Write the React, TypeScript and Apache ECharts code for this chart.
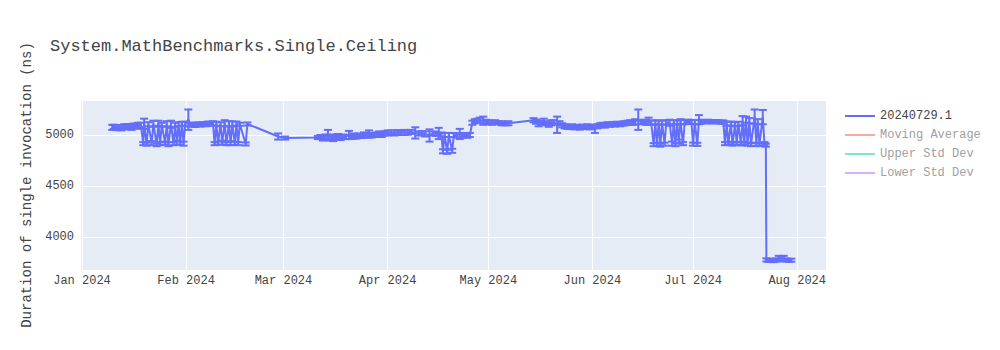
import React, { useEffect, useRef } from "react";
import * as echarts from "echarts";

const TITLE = "System.MathBenchmarks.Single.Ceiling";
const Y_NAME = "Duration of single invocation (ns)";
const SERIES_NAME = "20240729.1";
const LEGEND_NAMES = ["20240729.1", "Moving Average", "Upper Std Dev", "Lower Std Dev"];

const dates: string[] = [
  // Jan 10 - Jan 17
  "2024-01-10T00:00", "2024-01-10T12:00", "2024-01-11T06:00", "2024-01-12T00:00", "2024-01-12T18:00", "2024-01-13T12:00",
  "2024-01-14T06:00", "2024-01-15T00:00", "2024-01-15T18:00", "2024-01-16T12:00", "2024-01-17T06:00", "2024-01-17T18:00",
  // Jan 18 - Feb 1
  "2024-01-18T12:00", "2024-01-19T06:00", "2024-01-19T12:00", "2024-01-20T06:00", "2024-01-20T18:00", "2024-01-21T18:00",
  "2024-01-22T06:00", "2024-01-23T06:00", "2024-01-23T18:00", "2024-01-24T06:00", "2024-01-24T18:00", "2024-01-25T18:00",
  "2024-01-26T06:00", "2024-01-26T18:00", "2024-01-27T12:00", "2024-01-28T06:00", "2024-01-28T18:00", "2024-01-29T06:00",
  "2024-01-29T18:00", "2024-01-30T06:00", "2024-01-30T18:00", "2024-01-31T06:00", "2024-01-31T18:00", "2024-02-01T16:00",
  // Feb 2 - Feb 9
  "2024-02-02T06:00", "2024-02-03T00:00", "2024-02-03T18:00", "2024-02-04T12:00", "2024-02-05T06:00",
  "2024-02-06T00:00", "2024-02-06T18:00", "2024-02-07T12:00", "2024-02-08T06:00", "2024-02-09T00:00",
  // Feb 9 - Feb 19
  "2024-02-09T12:00", "2024-02-10T00:00", "2024-02-10T12:00", "2024-02-11T06:00", "2024-02-11T18:00", "2024-02-12T12:00",
  "2024-02-13T00:00", "2024-02-13T18:00", "2024-02-14T06:00", "2024-02-14T18:00", "2024-02-15T12:00", "2024-02-16T00:00",
  "2024-02-16T12:00", "2024-02-17T00:00", "2024-02-18T18:00", "2024-02-19T06:00",
  // Feb 28 - Mar 11
  "2024-02-28T10:00", "2024-03-01T12:00", "2024-03-11T06:00",
  // Mar 12 - Mar 28
  "2024-03-12T00:00", "2024-03-12T18:00", "2024-03-13T12:00", "2024-03-14T06:00", "2024-03-15T00:00", "2024-03-15T18:00",
  "2024-03-16T12:00", "2024-03-17T06:00", "2024-03-18T00:00", "2024-03-18T18:00", "2024-03-19T12:00", "2024-03-20T12:00",
  "2024-03-21T06:00", "2024-03-22T00:00", "2024-03-22T18:00", "2024-03-23T12:00", "2024-03-24T06:00", "2024-03-25T00:00",
  "2024-03-25T18:00", "2024-03-26T12:00", "2024-03-27T06:00", "2024-03-28T00:00",
  // Mar 28 - Apr 25
  "2024-03-28T18:00", "2024-03-29T12:00", "2024-03-30T06:00", "2024-03-31T00:00", "2024-04-01T00:00", "2024-04-02T00:00",
  "2024-04-03T00:00", "2024-04-04T00:00", "2024-04-05T00:00", "2024-04-06T00:00", "2024-04-07T00:00", "2024-04-08T00:00",
  "2024-04-09T06:00", "2024-04-10T06:00", "2024-04-11T06:00", "2024-04-12T06:00", "2024-04-13T12:00", "2024-04-14T12:00",
  "2024-04-15T12:00", "2024-04-16T06:00", "2024-04-17T00:00", "2024-04-17T12:00", "2024-04-18T00:00", "2024-04-18T18:00",
  "2024-04-19T06:00", "2024-04-20T06:00", "2024-04-20T18:00", "2024-04-21T12:00", "2024-04-22T12:00", "2024-04-23T06:00",
  "2024-04-24T00:00", "2024-04-24T18:00", "2024-04-25T12:00",
  // Apr 26 - May 7
  "2024-04-26T06:00", "2024-04-27T00:00", "2024-04-27T18:00", "2024-04-28T12:00", "2024-04-29T12:00", "2024-04-30T06:00",
  "2024-05-01T00:00", "2024-05-02T00:00", "2024-05-03T00:00", "2024-05-04T00:00", "2024-05-05T00:00", "2024-05-06T00:00",
  "2024-05-07T00:00",
  // May 14 - May 24
  "2024-05-14T12:00", "2024-05-15T06:00", "2024-05-16T00:00", "2024-05-16T18:00", "2024-05-17T12:00", "2024-05-18T06:00",
  "2024-05-19T00:00", "2024-05-19T18:00", "2024-05-20T12:00", "2024-05-21T12:00", "2024-05-22T06:00", "2024-05-23T00:00",
  "2024-05-23T18:00", "2024-05-24T12:00",
  // May 25 - Jun 2
  "2024-05-25T06:00", "2024-05-26T00:00", "2024-05-26T18:00", "2024-05-27T12:00", "2024-05-28T06:00", "2024-05-29T00:00",
  "2024-05-29T18:00", "2024-05-30T12:00", "2024-05-31T06:00", "2024-06-01T00:00", "2024-06-01T18:00", "2024-06-02T12:00",
  // Jun 3 - Jun 10
  "2024-06-03T06:00", "2024-06-04T00:00", "2024-06-04T18:00", "2024-06-05T12:00", "2024-06-06T06:00", "2024-06-07T00:00",
  "2024-06-07T18:00", "2024-06-08T12:00", "2024-06-09T06:00", "2024-06-10T00:00", "2024-06-10T18:00",
  // Jun 11 - Jun 18
  "2024-06-11T12:00", "2024-06-12T06:00", "2024-06-13T00:00", "2024-06-13T18:00", "2024-06-14T16:00", "2024-06-15T12:00",
  "2024-06-16T06:00", "2024-06-17T00:00", "2024-06-17T18:00", "2024-06-18T12:00",
  // Jun 19 - Jul 3
  "2024-06-19T06:00", "2024-06-19T18:00", "2024-06-20T06:00", "2024-06-20T18:00", "2024-06-21T06:00", "2024-06-21T18:00",
  "2024-06-22T12:00", "2024-06-23T00:00", "2024-06-24T00:00", "2024-06-24T18:00", "2024-06-25T06:00", "2024-06-25T18:00",
  "2024-06-26T06:00", "2024-06-26T18:00", "2024-06-27T06:00", "2024-06-28T00:00", "2024-06-28T12:00", "2024-06-29T12:00",
  "2024-06-30T12:00", "2024-07-01T00:00", "2024-07-01T12:00", "2024-07-02T06:00", "2024-07-02T18:00", "2024-07-03T06:00",
  // Jul 4 - Jul 10
  "2024-07-04T00:00", "2024-07-04T18:00", "2024-07-05T12:00", "2024-07-06T06:00", "2024-07-07T00:00", "2024-07-07T18:00",
  "2024-07-08T12:00", "2024-07-09T06:00", "2024-07-10T00:00",
  // Jul 10 - Jul 22
  "2024-07-10T12:00", "2024-07-11T00:00", "2024-07-11T12:00", "2024-07-12T06:00", "2024-07-12T18:00", "2024-07-13T12:00",
  "2024-07-14T00:00", "2024-07-14T12:00", "2024-07-15T06:00", "2024-07-15T18:00", "2024-07-16T06:00", "2024-07-16T18:00",
  "2024-07-17T06:00", "2024-07-17T18:00", "2024-07-18T06:00", "2024-07-19T08:00", "2024-07-19T20:00", "2024-07-20T06:00",
  "2024-07-20T18:00", "2024-07-21T18:00", "2024-07-22T06:00", "2024-07-22T16:00",
  // Jul 22 - Jul 30
  "2024-07-22T20:00", "2024-07-23T12:00", "2024-07-24T06:00", "2024-07-25T00:00", "2024-07-25T18:00", "2024-07-26T12:00",
  "2024-07-27T06:00", "2024-07-28T00:00", "2024-07-28T18:00", "2024-07-29T12:00", "2024-07-30T06:00",
];

const values: number[] = [
  5075, 5080, 5072, 5078, 5070, 5085, 5080, 5088, 5075, 5090, 5085, 5095,
  5100, 4915, 5110, 4910, 5105, 4920, 5110, 4905, 5115, 4915, 5100, 4920,
  5110, 4910, 5105, 4915, 5100, 4925, 5105, 4920, 5110, 4915, 5110, 5150,
  5100, 5105, 5098, 5108, 5102, 5110, 5105, 5112, 5108, 5115,
  4915, 5110, 4920, 5105, 4925, 5115, 4915, 5110, 4920, 5108, 4918, 5112, 4915, 5105, 4912, 5108,
  4985, 4970, 4975,
  4980, 4970, 4985, 5000, 4975, 4965, 4980, 4990, 4975, 4985, 4980, 5000,
  4980, 4990, 4985, 4995, 4990, 5000, 4995, 5010, 4995, 5000,
  5005, 5010, 5000, 5015, 5020, 5025, 5020, 5028, 5020, 5025, 5022, 5030,
  5020, 5015, 5018, 5010, 4995, 5015, 5010, 5015, 5005, 4840, 5000, 4835,
  5000, 4845, 5000, 4995, 5010, 4998, 5000, 4992, 5000,
  5120, 5135, 5140, 5145, 5140, 5130, 5125, 5120, 5125, 5120, 5115, 5110, 5115,
  5145, 5130, 5110, 5120, 5135, 5115, 5100, 5120, 5125, 5100, 5115, 5095, 5085, 5080,
  5078, 5085, 5075, 5080, 5072, 5082, 5078, 5085, 5075, 5080, 5060, 5085,
  5095, 5100, 5092, 5105, 5100, 5108, 5102, 5110, 5105, 5112, 5115,
  5120, 5125, 5118, 5130, 5150, 5125, 5130, 5120, 5135, 5125,
  4905, 5120, 4910, 5125, 4900, 5120, 4910, 5125, 5120, 4915, 5125, 4905,
  5122, 4935, 5130, 4915, 5125, 5130, 5128, 4910, 5125, 4908, 5150, 5130,
  5132, 5128, 5135, 5130, 5128, 5132, 5130, 5125, 5128,
  4915, 5110, 4920, 5112, 4910, 5105, 4918, 5110, 4912, 5140, 4920, 5150,
  4910, 5140, 4905, 5180, 4910, 5130, 4905, 5175, 4915, 4900,
  3775, 3770, 3772, 3768, 3775, 3790, 3785, 3790, 3775, 3770, 3772,
];

const errors: number[] = [
  25, 20, 25, 20, 25, 20, 25, 20, 25, 22, 25, 25,
  20, 15, 50, 15, 20, 20, 30, 15, 25, 15, 20, 15,
  25, 20, 35, 15, 20, 20, 20, 15, 20, 20, 20, 100,
  20, 15, 20, 15, 20, 15, 20, 20, 20, 20,
  15, 20, 15, 20, 20, 30, 15, 25, 20, 25, 15, 20, 15, 15, 15, 15,
  30, 15, 15,
  20, 25, 20, 50, 30, 25, 20, 20, 25, 20, 20, 40,
  20, 25, 20, 20, 20, 25, 20, 35, 20, 20,
  20, 25, 20, 20, 25, 20, 25, 20, 20, 25, 20, 20,
  55, 20, 20, 25, 60, 20, 20, 55, 20, 20, 20, 20,
  20, 20, 20, 20, 50, 20, 20, 20, 20,
  20, 20, 20, 25, 40, 20, 20, 20, 20, 15, 20, 15, 20,
  20, 20, 25, 20, 25, 20, 20, 25, 20, 80, 20, 20, 20, 20,
  20, 20, 20, 20, 20, 20, 20, 20, 20, 20, 40, 20,
  20, 20, 20, 20, 20, 20, 20, 20, 20, 20, 20,
  20, 20, 20, 25, 100, 20, 20, 20, 35, 20,
  15, 20, 15, 20, 15, 20, 15, 20, 30, 20, 20, 15,
  20, 20, 25, 15, 20, 20, 20, 15, 20, 15, 45, 20,
  15, 15, 15, 15, 15, 15, 15, 15, 15,
  15, 20, 15, 20, 15, 20, 15, 20, 15, 45, 15, 30,
  15, 25, 15, 70, 15, 25, 15, 70, 15, 15,
  15, 15, 15, 15, 15, 25, 25, 25, 15, 15, 15,
];

const X_MIN = "2023-12-31T09:40";
const X_MAX = "2024-08-09T14:00";
const Y_MIN = 3676;
const Y_MAX = 5343;

const MAIN_COLOR = "#636efa";
const FADED_COLORS = ["#f7aa9d", "#80e6cb", "#d5b1fd"];

export default function App() {
  const ref = useRef<HTMLDivElement>(null);

  useEffect(() => {
    if (!ref.current) return;
    const chart = echarts.init(ref.current, undefined, { renderer: "svg" });
    const n = Math.min(dates.length, values.length, errors.length);
    const lineData: any[] = [];
    const errData: any[] = [];
    for (let i = 0; i < n; i++) {
      const t = new Date(dates[i]).getTime();
      lineData.push([t, values[i]]);
      errData.push([t, values[i], errors[i]]);
    }
    const font = "'Liberation Mono', 'Courier New', monospace";
    const option: any = {
      animation: false,
      textStyle: { fontFamily: font },
      title: {
        text: TITLE,
        left: 45,
        top: 33,
        textStyle: { fontFamily: font, fontSize: 17, fontWeight: "normal", color: "#444" },
      },
      legend: {
        orient: "vertical",
        left: 840,
        top: 105,
        icon: "rect",
        itemWidth: 30,
        itemHeight: 2,
        itemGap: 7,
        selectedMode: false,
        textStyle: { fontFamily: font, fontSize: 12, color: "#444" },
        data: LEGEND_NAMES.map((nm, i) => ({
          name: nm,
          textStyle: { color: i === 0 ? "#444" : "#a1a1a1" },
        })),
      },
      grid: {
        left: 80,
        right: 174,
        top: 100,
        bottom: 80,
        show: true,
        backgroundColor: "#E5ECF6",
        borderWidth: 0,
      },
      xAxis: {
        type: "time",
        min: new Date(X_MIN).getTime(),
        max: new Date(X_MAX).getTime(),
        splitNumber: 8,
        axisLine: { show: false },
        axisTick: { show: false },
        axisLabel: {
          color: "#444",
          fontSize: 12,
          fontFamily: font,
          margin: 5,
          formatter: "{MMM} {yyyy}",
          alignMinLabel: "center",
          alignMaxLabel: "center",
          showMinLabel: false,
          showMaxLabel: false,
        },
        splitLine: { show: true, lineStyle: { color: "#fff", width: 1 } },
      },
      yAxis: {
        type: "value",
        min: Y_MIN,
        max: Y_MAX,
        splitNumber: 4,
        name: Y_NAME,
        nameLocation: "middle",
        nameRotate: 90,
        nameGap: 35,
        nameTextStyle: { color: "#444", fontSize: 14, fontFamily: font },
        axisLine: { show: false },
        axisTick: { show: false },
        axisLabel: {
          color: "#444",
          fontSize: 12,
          fontFamily: font,
          margin: 6,
          showMinLabel: false,
          showMaxLabel: false,
          formatter: (v: number) => String(v),
        },
        splitLine: { show: true, lineStyle: { color: "#fff", width: 1 } },
      },
      series: [
        {
          name: SERIES_NAME,
          type: "line",
          data: lineData,
          showSymbol: false,
          symbol: "none",
          color: MAIN_COLOR,
          lineStyle: { color: MAIN_COLOR, width: 2 },
          itemStyle: { color: MAIN_COLOR },
          z: 2,
        },
        {
          name: "errors",
          type: "custom",
          data: errData,
          encode: { x: 0, y: 1 },
          z: 3,
          renderItem: (params: any, api: any) => {
            const x = api.value(0);
            const v = api.value(1);
            const e = api.value(2);
            const top = api.coord([x, v + e]);
            const bot = api.coord([x, v - e]);
            const hw = 4;
            const style = { stroke: MAIN_COLOR, lineWidth: 2 };
            return {
              type: "group",
              children: [
                { type: "line", shape: { x1: top[0], y1: top[1], x2: bot[0], y2: bot[1] }, style },
                { type: "line", shape: { x1: top[0] - hw, y1: top[1], x2: top[0] + hw, y2: top[1] }, style },
                { type: "line", shape: { x1: bot[0] - hw, y1: bot[1], x2: bot[0] + hw, y2: bot[1] }, style },
              ],
            };
          },
        },
        ...LEGEND_NAMES.slice(1).map((nm, i) => ({
          name: nm,
          type: "line",
          data: [],
          showSymbol: false,
          color: FADED_COLORS[i],
          lineStyle: { color: FADED_COLORS[i], width: 2 },
          itemStyle: { color: FADED_COLORS[i] },
        })),
      ],
    };
    chart.setOption(option);
    return () => chart.dispose();
  }, []);

  return (
    <div
      ref={ref}
      style={{ position: "fixed", left: 0, top: 0, width: 1000, height: 350, background: "#fff" }}
    />
  );
}
